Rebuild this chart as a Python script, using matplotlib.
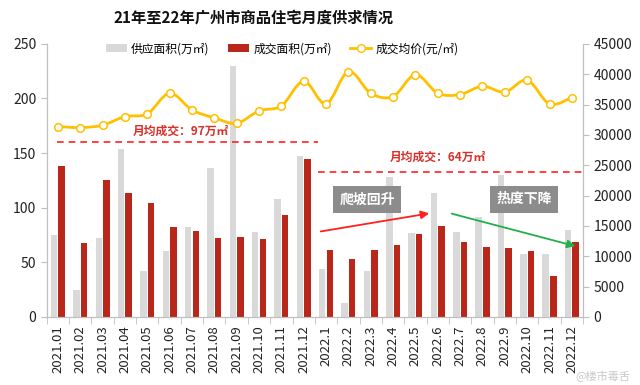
import matplotlib
matplotlib.use("Agg")
import matplotlib.pyplot as plt
import numpy as np
from matplotlib.path import Path
from matplotlib.patches import PathPatch

plt.rcParams['font.family'] = ['Noto Sans CJK SC', 'DejaVu Sans']

# data
months = ["2021.01", "2021.02", "2021.03", "2021.04", "2021.05", "2021.06",
          "2021.07", "2021.08", "2021.09", "2021.10", "2021.11", "2021.12",
          "2022.1", "2022.2", "2022.3", "2022.4", "2022.5", "2022.6",
          "2022.7", "2022.8", "2022.9", "2022.10", "2022.11", "2022.12"]
supply = [75, 25, 72, 154, 42, 60, 82, 136, 230, 78, 108, 147,
          44, 13, 42, 128, 77, 113, 78, 91, 130, 58, 58, 80]
deal = [138, 68, 125, 113, 104, 82, 79, 72, 73, 71, 93, 145,
        61, 53, 61, 66, 76, 83, 69, 64, 63, 60, 37, 69]
price = [31370, 31210, 31590, 33020, 33460, 36870, 34120, 32800, 31920, 33960, 34780, 38850,
         35110, 40440, 36870, 36320, 39940, 36870, 36650, 38030, 37040, 39020, 35110, 36160]

gray = "#D9D9D9"
red = "#B8271A"
gold = "#FFC000"
axis_col = "#BFBFBF"

fig = plt.figure(figsize=(6.4, 3.85), dpi=100)
ax = fig.add_axes([0.073, 0.177, 0.838, 0.709])
ax2 = ax.twinx()

x = np.arange(len(months))
w = 0.29
b1 = ax.bar(x - 0.17, supply, w, color=gray, label="供应面积(万㎡)", zorder=2)
b2 = ax.bar(x + 0.17, deal, w, color=red, label="成交面积(万㎡)", zorder=2)

# smoothed price line (bezier through the points)
pts = np.column_stack([x, price]).astype(float)
verts = [tuple(pts[0])]
codes = [Path.MOVETO]
n = len(pts)
for i in range(n - 1):
    p0 = pts[max(i - 1, 0)]
    p1 = pts[i]
    p2 = pts[i + 1]
    p3 = pts[min(i + 2, n - 1)]
    c1 = p1 + (p2 - p0) / 6.0
    c2 = p2 - (p3 - p1) / 6.0
    verts += [tuple(c1), tuple(c2), tuple(p2)]
    codes += [Path.CURVE4] * 3
ax2.add_patch(PathPatch(Path(verts, codes), facecolor="none", edgecolor=gold, lw=2, zorder=3))
ax2.plot(x, price, ls="none", marker="o", markersize=5.5,
         markerfacecolor="white", markeredgecolor=gold, markeredgewidth=1.1, zorder=4)
leg_line, = ax2.plot([], [], color=gold, lw=2, marker="o", markersize=5.5,
                     markerfacecolor="white", markeredgecolor=gold, label="成交均价(元/㎡)")

ax.set_xlim(-0.5, len(months) - 0.5)
ax.set_ylim(0, 250)
ax.set_yticks(np.arange(0, 251, 50))
ax2.set_ylim(0, 45000)
ax2.set_yticks(np.arange(0, 45001, 5000))

ax.set_xticks(x)
ax.set_xticklabels(months, rotation=90, fontsize=9.5, color="#222222")
ax.set_xticks(np.arange(-0.5, len(months), 1), minor=True)
ax.tick_params(axis="x", which="major", length=0, pad=6)
ax.tick_params(axis="x", which="minor", length=5, color=axis_col)
ax.tick_params(axis="y", length=4, color=axis_col, labelsize=10, labelcolor="#222222")
ax2.tick_params(axis="y", length=4, color=axis_col, labelsize=10, labelcolor="#222222")

for a in (ax, ax2):
    a.spines["top"].set_visible(False)
    for s in ("left", "right", "bottom"):
        a.spines[s].set_color(axis_col)

# average lines and labels
ax.plot([-0.05, 11.64], [160.5, 160.5], ls=(0, (4, 3)), color="#FF2020", lw=1.2, zorder=5)
ax.plot([11.64, 23.5], [132.8, 132.8], ls=(0, (4, 3)), color="#FF2020", lw=1.2, zorder=5)
ax.text(5.5, 169.7, "月均成交：97万㎡", color="#D8302A", fontsize=8.5, fontweight="bold",
        ha="center", va="center", zorder=6)
ax.text(17.0, 146.5, "月均成交：64万㎡", color="#D8302A", fontsize=8.5, fontweight="bold",
        ha="center", va="center", zorder=6)

# trend boxes and arrows
box = dict(boxstyle="square,pad=0.45", facecolor="#8C8C8C", edgecolor="none")
ax.text(13.83, 107.6, "爬坡回升", color="white", fontsize=10, fontweight="bold",
        ha="center", va="center", bbox=box, zorder=6)
ax.text(20.87, 107.6, "热度下降", color="white", fontsize=10, fontweight="bold",
        ha="center", va="center", bbox=box, zorder=6)
ax.annotate("", xy=(16.74, 95.2), xytext=(11.64, 77.8),
            arrowprops=dict(arrowstyle="-|>", color="#FF2020", lw=1.3, mutation_scale=12), zorder=6)
ax.annotate("", xy=(23.28, 64.1), xytext=(17.5, 95.2),
            arrowprops=dict(arrowstyle="-|>", color="#22B04B", lw=1.3, mutation_scale=12), zorder=6)

fig.legend(handles=[b1, b2, leg_line], loc="center", bbox_to_anchor=(0.441, 0.873), ncol=3,
           frameon=False, fontsize=8.5, handlelength=1.75, handleheight=0.6, columnspacing=1.6,
           handletextpad=0.35)

fig.text(0.396, 0.954, "21年至22年广州市商品住宅月度供求情况", fontsize=11, fontweight="bold",
         ha="center", va="center", color="#111111")
fig.text(0.985, 0.022, "@楼市毒舌", fontsize=8, color="#BBBBBB", alpha=0.8, ha="right", va="center")

fig.savefig("out.png", dpi=100)
